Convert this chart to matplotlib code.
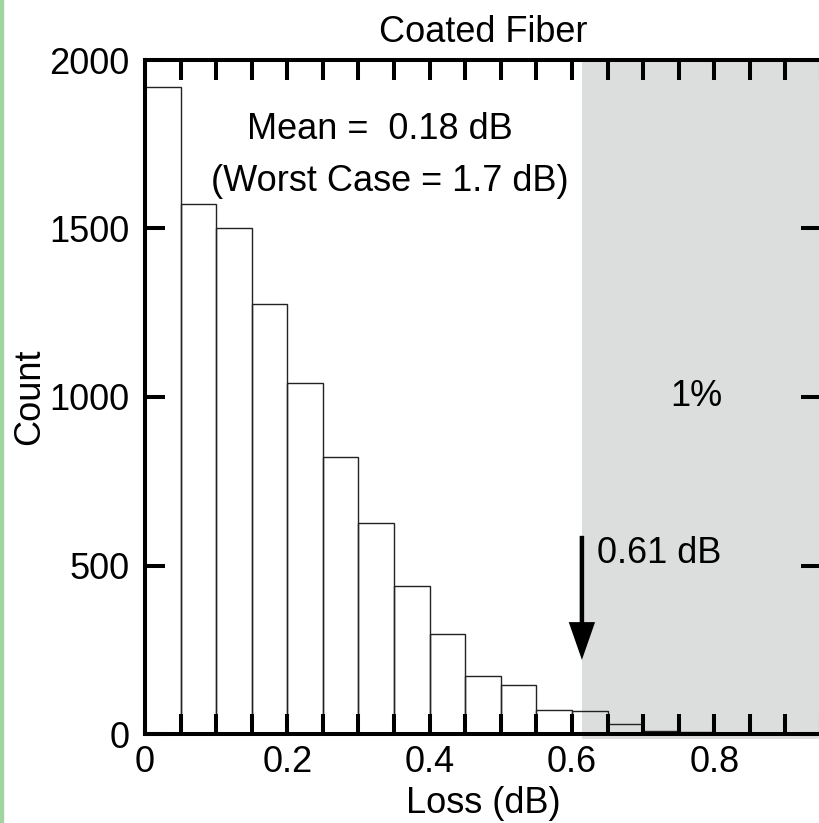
"""Histogram of splice loss for coated fiber, with the 1% tail shaded."""
import numpy as np
import matplotlib.pyplot as plt
from matplotlib.patches import Rectangle

plt.rcParams['font.family'] = ['Liberation Sans', 'DejaVu Sans']

# Histogram data (bin width 0.05 dB)
bin_width = 0.05
counts = [1920, 1574, 1502, 1276, 1042, 823, 626, 440, 298, 173,
          145, 71, 68, 29, 10, 5, 4, 3, 2]
bin_starts = np.arange(len(counts)) * bin_width

# Annotations
threshold = 0.614        # 99th percentile loss (dB)
arrow_top = 588
arrow_tip = 220
mean_text = 'Mean =  0.18 dB'
worst_text = '(Worst Case = 1.7 dB)'
tail_text = '1%'
threshold_text = '0.61 dB'

fig = plt.figure(figsize=(8.19, 8.23), dpi=100)
ax = fig.add_axes([145 / 819, 89 / 823, 676 / 819, 674 / 823])

# Shaded tail region
ax.axvspan(threshold, 0.95, ymin=-0.007, ymax=1, color='#dcdddd',
           lw=0, zorder=0, clip_on=False)

ax.bar(bin_starts, counts, width=bin_width, align='edge', fill=False,
       edgecolor='#222222', linewidth=1.0, zorder=1)

# Arrow marking the threshold
ax.arrow(threshold, arrow_top, 0, arrow_tip - arrow_top, width=0.0063,
         head_width=0.037, head_length=112, length_includes_head=True,
         color='black', lw=0, zorder=3)

ax.text(0.330, 1795, mean_text, ha='center', va='center', fontsize=26)
ax.text(0.344, 1638, worst_text, ha='center', va='center', fontsize=26)
ax.text(0.775, 1000, tail_text, ha='center', va='center', fontsize=26)
ax.text(0.635, 537, threshold_text, ha='left', va='center', fontsize=26)

ax.set_xlim(0, 0.95)
ax.set_ylim(0, 2000)
ax.set_xticks([0, 0.2, 0.4, 0.6, 0.8])
ax.set_xticklabels(['0', '0.2', '0.4', '0.6', '0.8'])
ax.set_xticks(np.arange(0, 0.951, bin_width), minor=True)
ax.set_yticks([0, 500, 1000, 1500, 2000])

for s in ax.spines.values():
    s.set_linewidth(2.9)
ax.tick_params(which='both', direction='in', length=14.4, width=2.9,
               top=True, right=True, labelsize=26)
ax.tick_params(axis='x', which='major', pad=8)
ax.tick_params(axis='y', which='major', pad=11)

ax.set_title('Coated Fiber', fontsize=26, pad=13)
ax.set_xlabel('Loss (dB)', fontsize=26, labelpad=4)
ax.set_ylabel('Count', fontsize=26, labelpad=2)

# thin green strip on the left edge
fig.patches.append(Rectangle((0, 0), 3 / 819, 1, transform=fig.transFigure,
                             color='#a0d4a0', zorder=0))

fig.savefig('out.png', dpi=100)
